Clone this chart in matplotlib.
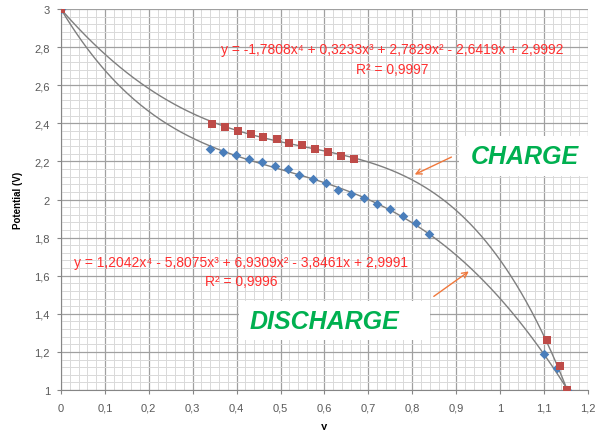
import numpy as np
import matplotlib
matplotlib.use("Agg")
import matplotlib.pyplot as plt
from matplotlib.ticker import MultipleLocator, FuncFormatter
from matplotlib.patches import Rectangle

plt.rcParams['font.family'] = ['Liberation Sans', 'DejaVu Sans']

# charge points (red squares)
charge_x = [0.0, 0.345, 0.374, 0.403, 0.433, 0.461, 0.491, 0.520, 0.550, 0.579,
            0.609, 0.638, 0.668, 1.108, 1.136, 1.153]
charge_y = [3.0, 2.396, 2.379, 2.361, 2.345, 2.328, 2.316, 2.298, 2.286, 2.267,
            2.251, 2.230, 2.211, 1.264, 1.126, 1.0]

# discharge points (blue diamonds)
discharge_x = [0.0, 0.340, 0.369, 0.398, 0.428, 0.457, 0.487, 0.516, 0.543, 0.574,
               0.603, 0.632, 0.661, 0.690, 0.720, 0.749, 0.778, 0.809, 0.838,
               1.101, 1.129, 1.153]
discharge_y = [3.0, 2.265, 2.251, 2.234, 2.214, 2.195, 2.176, 2.160, 2.130, 2.108,
               2.085, 2.052, 2.029, 2.006, 1.975, 1.951, 1.912, 1.877, 1.821,
               1.191, 1.115, 1.0]

# trendline coefficients as printed on the chart (x^4 ... x^0)
charge_coef = [-1.7808, 0.3233, 2.7829, -2.6419, 2.9992]
discharge_coef = [1.2042, -5.8075, 6.9309, -3.8461, 2.9991]

charge_eq = "y = -1,7808x\u2074 + 0,3233x\u00b3 + 2,7829x\u00b2 - 2,6419x + 2,9992"
charge_r2 = "R\u00b2 = 0,9997"
discharge_eq = "y = 1,2042x\u2074 - 5,8075x\u00b3 + 6,9309x\u00b2 - 3,8461x + 2,9991"
discharge_r2 = "R\u00b2 = 0,9996"

fig = plt.figure(figsize=(5.98, 4.31), dpi=100)
ax = fig.add_axes([0.102, 0.0928, 0.881, 0.884])

# trendlines over the data range
xs = np.linspace(0, max(charge_x), 300)
ax.plot(xs, np.polyval(charge_coef, xs), color='#7f7f7f', lw=1.0, zorder=3)
xs = np.linspace(0, max(discharge_x), 300)
ax.plot(xs, np.polyval(discharge_coef, xs), color='#7f7f7f', lw=1.0, zorder=3)

ax.scatter(discharge_x, discharge_y, marker='D', s=24, color='#4a7ebb', zorder=4, linewidths=0)
ax.scatter(charge_x, charge_y, marker='s', s=26, color='#be4b48', zorder=5, linewidths=0)

ax.set_xlim(0, 1.2)
ax.set_ylim(1, 3)
ax.xaxis.set_major_locator(MultipleLocator(0.1))
ax.xaxis.set_minor_locator(MultipleLocator(0.02))
ax.yaxis.set_major_locator(MultipleLocator(0.2))
ax.yaxis.set_minor_locator(MultipleLocator(0.04))
fmt = FuncFormatter(lambda v, p: ('%g' % round(v, 2)).replace('.', ','))
ax.xaxis.set_major_formatter(fmt)
ax.yaxis.set_major_formatter(fmt)

ax.grid(which='major', color='#a0a0a0', lw=0.9, zorder=0)
ax.grid(which='minor', color='#d9d9d9', lw=0.7, zorder=0)
ax.set_axisbelow(True)
for s in ['top', 'right']:
    ax.spines[s].set_visible(False)
for s in ['left', 'bottom']:
    ax.spines[s].set_color('#868686')
ax.tick_params(which='major', length=3, color='#868686', labelsize=8, labelcolor='#595959')
ax.tick_params(axis='x', which='major', pad=6)
ax.tick_params(axis='y', which='major', pad=5)
ax.tick_params(which='minor', length=0)

ax.set_xlabel('y', fontsize=8, fontweight='bold', labelpad=6)
ax.set_ylabel('Potential (V)', fontsize=7, fontweight='bold', labelpad=8)

red = '#ff2f2f'
ax.text(0.755, 2.79, charge_eq, color=red, fontsize=10, ha='center', va='center')
ax.text(0.755, 2.685, charge_r2, color=red, fontsize=10, ha='center', va='center')
ax.text(0.411, 1.67, discharge_eq, color=red, fontsize=10, ha='center', va='center')
ax.text(0.411, 1.574, discharge_r2, color=red, fontsize=10, ha='center', va='center')

# white label boxes
ax.add_patch(Rectangle((0.906, 2.123), 0.30, 0.21, facecolor='white', edgecolor='none',
                       zorder=6, clip_on=False))
ax.add_patch(Rectangle((0.405, 1.262), 0.435, 0.205, facecolor='white', edgecolor='none',
                       zorder=6, clip_on=False))
green = '#00b050'
ax.text(1.056, 2.228, 'CHARGE', color=green, fontsize=18, fontweight='bold', style='italic',
        ha='center', va='center', zorder=7)
ax.text(0.601, 1.362, 'DISCHARGE', color=green, fontsize=18, fontweight='bold', style='italic',
        ha='center', va='center', zorder=7)

orange = '#f0783c'
ax.annotate('', xy=(0.800, 2.125), xytext=(0.895, 2.229),
            arrowprops=dict(arrowstyle='->', color=orange, lw=1.0), zorder=7)
ax.annotate('', xy=(0.934, 1.631), xytext=(0.844, 1.483),
            arrowprops=dict(arrowstyle='->', color=orange, lw=1.0), zorder=7)

fig.savefig('out.png', dpi=100)
